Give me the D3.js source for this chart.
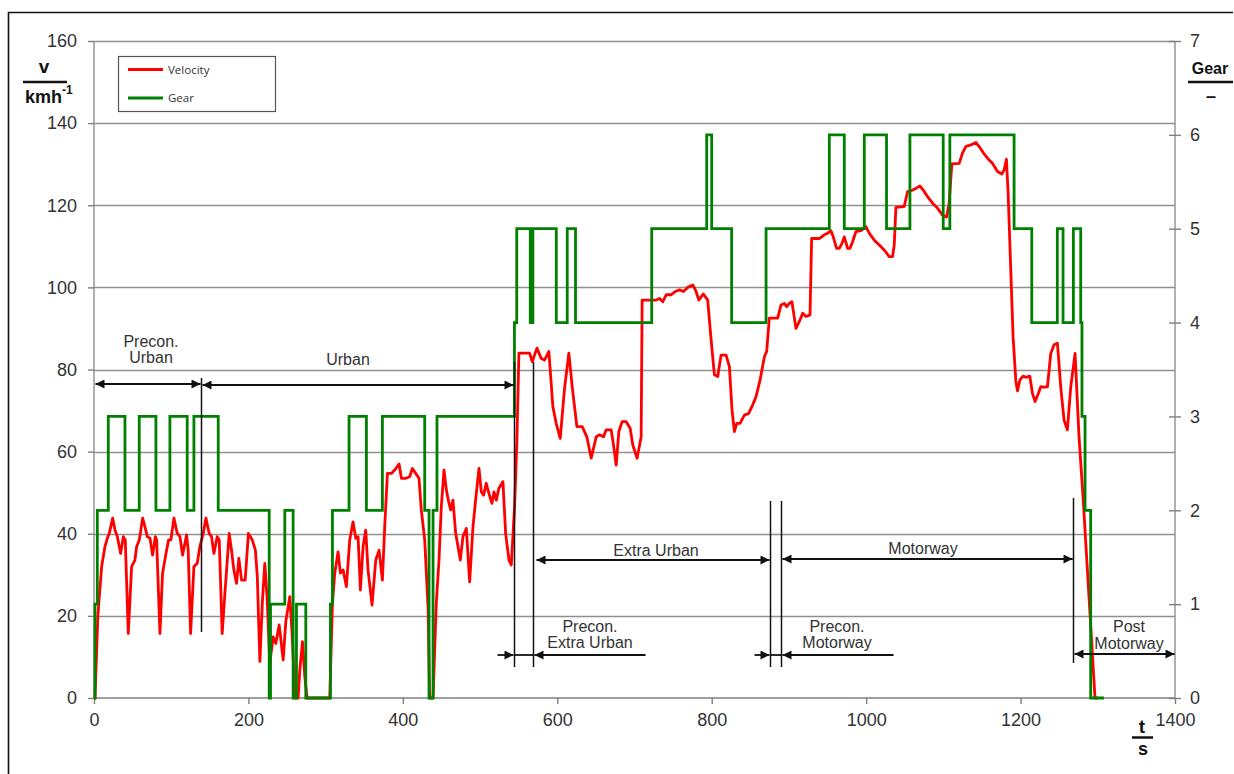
<!DOCTYPE html>
<html>
<head>
<meta charset="utf-8">
<script src="https://cdn.jsdelivr.net/npm/d3@7/dist/d3.min.js"></script>
<style>
  html, body { margin: 0; padding: 0; background: #fff; }
  svg { display: block; font-family: "Liberation Sans", Arial, sans-serif; }
</style>
</head>
<body>
<svg id="chart" width="1234" height="774"></svg>
<script>
// Drive cycle: time [s], vehicle speed [km/h]
const velocityTime = [
  0, 1.3, 5, 9.9, 14.2, 17.3, 19.8, 24.2, 27.2, 30.2, 34.5, 38.0, 40.5, 44.4, 48.7, 53.0, 55.2, 58.7,
  63.0, 66.0, 69.0, 72.5, 75.9, 79.4, 81.1, 85.4, 88.8, 93.2, 96.6, 99.6, 103.5, 107.8, 111.3, 114.7,
  119.9, 122.0, 125.1, 129.4, 133.7, 137.1, 141.5, 144.9, 149.2, 152.2, 155.3, 159.6, 162.2, 166.0,
  169.5, 175.1, 178.1, 181.1, 184.6, 187.6, 191.1, 195.8, 200.0, 205.0, 209.0, 211.5, 214.8, 218.2,
  221.2, 224.3, 227.7, 232.0, 235.5, 239.8, 245.0, 248.4, 253.6, 257.0, 260.1, 264.4, 266.5, 270.0,
  273.0, 276.0, 305.3, 308.8, 311.8, 316.1, 319.1, 322.6, 326.9, 331.2, 335.5, 339.0, 342.0, 345.0,
  348.5, 351.9, 354.9, 360.1, 364.9, 369.2, 373.5, 376.5, 380.0, 385.1, 389.4, 395.1, 398.1, 403.7,
  408.9, 412.3, 416.6, 420.9, 423.9, 428.3, 432.6, 434.7, 439.1, 443.3, 446.8, 449.8, 453.3, 456.3,
  459.3, 461.9, 464.9, 468.4, 471.4, 474.4, 477.8, 482.2, 486.5, 490.8, 495.1, 498.6, 501.6, 504.6,
  508.0, 511.5, 515.4, 518.0, 521.0, 524.4, 529.6, 533.1, 537.4, 540.4, 544.7, 547.7, 550.3, 564.1,
  567.6, 573.6, 579.2, 583.5, 589.1, 594.3, 598.6, 603.8, 609.4, 615.0, 619.3, 625.4, 632.3, 638.3,
  643.9, 650.4, 654.7, 659.9, 663.3, 669.8, 672.8, 676.3, 679.7, 684.0, 689.2, 694.4, 697.8, 703.4,
  708.6, 709.9, 728.0, 732.3, 736.6, 741.0, 747.4, 753.0, 758.2, 763.4, 769.0, 775.4, 779.8, 783.2,
  789.2, 794.8, 799.2, 803.5, 807.8, 812.1, 818.6, 822.9, 826.3, 829.4, 832.4, 836.7, 842.3, 847.9,
  853.1, 857.4, 862.6, 868.2, 871.2, 874.6, 885.4, 889.7, 894.0, 897.1, 900.5, 903.9, 909.1, 913.5,
  917.8, 922.1, 927.3, 929.4, 939.3, 945.8, 950.1, 954.4, 957.4, 961.7, 965.2, 968.7, 971.7, 976.0,
  979.0, 982.5, 986.8, 993.2, 999.7, 1004.0, 1010.5, 1017.0, 1023.4, 1029.9, 1034.2, 1036.4, 1038.5,
  1049.3, 1053.6, 1060.1, 1064.4, 1069.6, 1073.9, 1079.5, 1086.0, 1092.4, 1098.9, 1104.1, 1107.5,
  1111.0, 1120.5, 1124.8, 1129.1, 1135.6, 1142.0, 1146.4, 1152.8, 1159.3, 1163.6, 1170.1, 1175.7,
  1178.7, 1181.7, 1183.9, 1187.3, 1190.3, 1193.8, 1196.0, 1199.0, 1203.3, 1206.7, 1211.9, 1215.4,
  1218.8, 1223.1, 1226.1, 1230.5, 1234.8, 1239.1, 1243.4, 1247.7, 1252.0, 1256.3, 1260.6, 1265.0,
  1270.6, 1275.7, 1280.9, 1296.4, 1300
];
const velocityValue = [
  0, 0, 20, 32, 36.9, 38.9, 40.1, 43.8, 40.9, 39.3, 35.2, 39.3, 38.5, 15.7, 32, 33.6, 36.9, 38.5,
  43.8, 41.7, 39.3, 38.9, 34.8, 39.3, 38.5, 15.7, 30.4, 35.2, 38.5, 38.5, 43.8, 40.1, 39.3, 34.8,
  39.7, 36.0, 15.7, 32, 32.8, 36.9, 40.1, 43.8, 40.1, 39.3, 35.2, 39.3, 38.5, 15.7,
  25.5, 40.1, 36.0, 31.2, 27.9, 34.0, 28.7, 28.7, 40.1, 38.5, 36.0, 29.6, 8.9, 23.9,
  32.8, 23.9, 8.5, 14.9, 13.3, 17.8, 9.3, 18.6, 24.7, 14.1, 0, 0, 6.8, 13.7,
  5.2, 0, 0, 23.1, 30.4, 35.6, 30.4, 31.2, 27.1, 38.5, 42.9, 38.9, 39.3, 26.3,
  36.9, 40.9, 31.2, 22.6, 33.6, 36.0, 28.7, 41.7, 54.7, 54.7, 55.5, 57.0, 53.5, 53.5,
  53.9, 55.9, 54.7, 53.5, 45.8, 38.5, 22.2, 0, 0, 23.1, 33.6, 46.6, 55.5, 50.7,
  47.8, 45.8, 48.2, 40.1, 36.9, 33.6, 39.3, 41.3, 28.3, 41.7, 49.8, 55.9, 50.2, 49.4,
  52.3, 49.8, 47.4, 50.2, 48.2, 51.1, 52.7, 40.1, 33.6, 32.4, 46.6, 62.8, 84.0, 84.0,
  81.9, 85.2, 82.7, 82.3, 84.4, 70.9, 66.9, 63.2, 75.4, 84.0, 75.8, 66.1, 66.1, 63.6,
  58.4, 63.6, 64.1, 63.6, 65.3, 65.3, 61.6, 56.7, 64.9, 67.3, 67.3, 65.7, 61.6, 58.4,
  63.6, 96.9, 96.9, 97.3, 96.5, 98.2, 98.2, 99.0, 99.4, 99.0, 100.0, 100.6, 99.0, 96.9,
  98.4, 96.9, 87.2, 78.7, 78.3, 83.5, 83.5, 80.7, 70.1, 64.9, 66.9, 66.9, 68.9, 69.3,
  71.4, 73.4, 77.4, 83.1, 84.4, 92.5, 92.5, 95.7, 96.1, 95.3, 96.1, 96.5, 90.0, 91.7,
  93.7, 92.9, 93.3, 111.9, 111.9, 112.8, 113.2, 113.8, 112.3, 109.5, 109.5, 110.7, 112.3, 109.5,
  109.5, 111.1, 113.6, 113.8, 114.8, 113.2, 111.5, 110.3, 109.1, 107.5, 107.5, 110.3, 119.5,
  119.7, 123.3, 123.7, 124.1, 124.7, 123.7, 122.1, 120.5, 119.3, 117.6, 117.1, 120.5,
  130.1, 130.2, 132.7, 134.3, 134.7, 135.3, 134.3, 132.5, 131.0, 130.2, 128.2, 127.6,
  128.6, 131.2, 122.9, 104.2, 88.0, 77.4, 74.8, 77.4, 78.4, 78.1, 78.4, 74.2,
  72.2, 74.2, 75.8, 75.7, 75.8, 83.9, 86.0, 86.4, 75.8, 67.7, 65.3, 75.8,
  83.9, 63.6, 49.0, 0, 0
];

// Selected gear: time of each shift [s] and the gear engaged from then on
const gearTime = [
  0, 1.3, 4.3, 18.5, 40.1, 58.6, 80.2, 98.3, 120.7, 129.4, 160.9, 226.9, 228.6, 247.1, 257.9, 262.2,
  274.3, 306.2, 308.8, 330.3, 352.8, 373.5, 428.3, 433.9, 439.1, 444.2, 544.5, 547.5, 565.0, 568.4,
  598.7, 612.9, 623.6, 722.3, 793.5, 800.0, 825.8, 870.4, 952.3, 971.7, 997.6, 1026.4, 1056.7,
  1099.8, 1108.4, 1191.6, 1214.5, 1247.6, 1255.0, 1268.4, 1277.9, 1279.5, 1283.5, 1290.8, 1308
];
const gearValue = [
  0, 1, 2, 3, 2, 3, 2, 3, 2, 3, 2, 0, 1, 2, 0, 1,
  0, 1, 2, 3, 2, 3, 2, 0, 2, 3, 4, 5, 4, 5,
  4, 5, 4, 5, 6, 5, 4, 5, 6, 5, 6, 5, 6,
  5, 6, 5, 4, 5, 4, 5, 4, 3, 2, 0, 0
];

// Axis ticks
const velocityTicks = [0, 20, 40, 60, 80, 100, 120, 140, 160];
const gearTicks = [0, 1, 2, 3, 4, 5, 6, 7];
const timeTicks = [0, 200, 400, 600, 800, 1000, 1200, 1400];

// Test phase boundaries [s]
const phaseBounds = [0, 138.6, 544, 568.6, 875.5, 889.4, 1267.6, 1400];

const velocity = velocityTime.map((t, i) => ({ t, v: velocityValue[i] }));
const gear = gearTime.map((t, i) => ({ t, g: gearValue[i] }));

const svg = d3.select("#chart");
const x = d3.scaleLinear().domain([0, 1400]).range([94, 1175]);
const yV = d3.scaleLinear().domain([0, 160]).range([698, 41]);
const yG = d3.scaleLinear().domain([0, 7]).range([698, 41]);

const gridColor = "#8f8f8f";
const textColor = "#333";

// Outer frame
svg.append("path")
  .attr("d", "M8.5,774 L8.5,12.5 L1233,12.5")
  .attr("fill", "none").attr("stroke", "#111").attr("stroke-width", 1.6);

// Horizontal grid
svg.append("g").selectAll("line").data(velocityTicks.slice(1)).join("line")
  .attr("x1", x(0)).attr("x2", x(1400))
  .attr("y1", d => Math.round(yV(d)) + 0.5).attr("y2", d => Math.round(yV(d)) + 0.5)
  .attr("stroke", gridColor).attr("stroke-width", 1.4);

// Plot frame: left, right and bottom axis lines
svg.append("line").attr("x1", x(0)).attr("x2", x(0)).attr("y1", yV(160)).attr("y2", yV(0))
  .attr("stroke", gridColor).attr("stroke-width", 1.4);
svg.append("line").attr("x1", x(1400)).attr("x2", x(1400)).attr("y1", yV(160)).attr("y2", yV(0))
  .attr("stroke", gridColor).attr("stroke-width", 1.4);
svg.append("line").attr("x1", x(0)).attr("x2", x(1400)).attr("y1", yV(0)).attr("y2", yV(0))
  .attr("stroke", "#7f7f7f").attr("stroke-width", 1.6);

function styleAxis(g) {
  g.select(".domain").remove();
  g.selectAll(".tick line").attr("stroke", "#7f7f7f").attr("stroke-width", 1.4);
  g.selectAll(".tick text").attr("fill", textColor)
    .style("font-size", "18px").style("font-family", "\"Liberation Sans\", Arial, sans-serif");
}

// Left axis (velocity)
svg.append("g").attr("transform", `translate(${x(0)},0)`)
  .call(d3.axisLeft(yV).tickValues(velocityTicks).tickSize(6).tickPadding(11).tickFormat(d3.format("d")))
  .call(styleAxis);

// Right axis (gear) with ticks crossing the axis line
const rightAxis = svg.append("g").attr("transform", `translate(${x(1400)},0)`)
  .call(d3.axisRight(yG).tickValues(gearTicks).tickSize(6).tickPadding(9).tickFormat(d3.format("d")))
  .call(styleAxis);
rightAxis.selectAll(".tick line").attr("x1", -6).attr("x2", 6);

// Bottom axis (time)
svg.append("g").attr("transform", `translate(0,${yV(0)})`)
  .call(d3.axisBottom(x).tickValues(timeTicks).tickSize(6).tickPadding(9).tickFormat(d3.format("d")))
  .call(styleAxis);

// Series
const velLine = d3.line().x(d => x(d.t)).y(d => yV(d.v)).curve(d3.curveLinear);
const gearLine = d3.line().x(d => x(d.t)).y(d => yG(d.g)).curve(d3.curveStepAfter);

svg.append("path").datum(velocity).attr("d", velLine)
  .attr("fill", "none").attr("stroke", "#ff0000").attr("stroke-width", 2.8)
  .attr("stroke-linejoin", "round");
svg.append("path").datum(gear).attr("d", gearLine)
  .attr("fill", "none").attr("stroke", "#008000").attr("stroke-width", 2.8)
  .attr("stroke-linejoin", "miter");

// Arrow markers for phase spans
const defs = svg.append("defs");
defs.append("marker").attr("id", "arrowEnd")
  .attr("viewBox", "0 0 10 10").attr("refX", 10).attr("refY", 5)
  .attr("markerWidth", 10).attr("markerHeight", 9).attr("markerUnits", "userSpaceOnUse")
  .attr("orient", "auto")
  .append("path").attr("d", "M0,0 L10,5 L0,10 z").attr("fill", "#111");
defs.append("marker").attr("id", "arrowStart")
  .attr("viewBox", "0 0 10 10").attr("refX", 0).attr("refY", 5)
  .attr("markerWidth", 10).attr("markerHeight", 9).attr("markerUnits", "userSpaceOnUse")
  .attr("orient", "auto")
  .append("path").attr("d", "M10,0 L0,5 L10,10 z").attr("fill", "#111");

const ann = svg.append("g");
function span(x1, x2, y, start, end) {
  const l = ann.append("line").attr("x1", x1).attr("x2", x2).attr("y1", y).attr("y2", y)
    .attr("stroke", "#111").attr("stroke-width", 1.8);
  if (start) l.attr("marker-start", "url(#arrowStart)");
  if (end) l.attr("marker-end", "url(#arrowEnd)");
}
function vline(xp, y1, y2) {
  ann.append("line").attr("x1", xp).attr("x2", xp).attr("y1", y1).attr("y2", y2)
    .attr("stroke", "#111").attr("stroke-width", 1.5);
}
function label(lines, xp, yBase) {
  lines.forEach((s, i) => {
    ann.append("text").attr("x", xp).attr("y", yBase + i * 16.5)
      .attr("text-anchor", "middle").attr("fill", textColor)
      .style("font-size", "16px").text(s);
  });
}

const [p0, p1, p2, p3, p4, p5, p6, p7] = phaseBounds.map(t => Math.round(x(t)) + 0.5);

// Phase boundaries
vline(p1, 378, 632);
vline(p2, 362, 667);
vline(p3, 362, 667);
vline(p4, 501, 667);
vline(p5, 501, 667);
vline(p6, 498, 663);

// Phase spans
span(p0 + 1, p1 - 1, 384, true, true);
span(p1 + 1, p2 - 1, 385, true, true);
span(p3 + 3, p4 - 1, 560, true, true);
span(p5 + 1, p6 - 1, 559, true, false);
span(p6 + 1, p6 + 1, 559, false, true);
span(p6 + 1, p7 - 1, 654, true, true);
// Preconditioning spans (arrows pointing inward)
span(p2 - 17, p2 - 1, 655, false, true);
span(p2, p3, 655, false, false);
span(p3 + 112, p3 + 1, 655, false, true);
span(p4 - 16, p4 - 1, 655, false, true);
span(p4, p5, 655, false, false);
span(p5 + 112, p5 + 1, 655, false, true);
// Motorway span ends on the boundary line
ann.selectAll("line").filter(function() {
  return +this.getAttribute("x1") === p6 + 1 && +this.getAttribute("x2") === p6 + 1;
}).remove();
span(p6 - 20, p6 - 1, 559, false, true);

// Phase labels
label(["Precon.", "Urban"], 151, 346.5);
label(["Urban"], 348, 365);
label(["Extra Urban"], 656, 556);
label(["Motorway"], 923, 554);
label(["Precon.", "Extra Urban"], 590, 631.5);
label(["Precon.", "Motorway"], 837, 631.5);
label(["Post", "Motorway"], 1129, 632);

// Axis titles (quantity over unit)
const titles = svg.append("g").attr("fill", "#111").style("font-weight", "bold");
titles.append("text").attr("x", 44).attr("y", 73).attr("text-anchor", "middle")
  .style("font-size", "19px").text("v");
titles.append("line").attr("x1", 23).attr("x2", 67).attr("y1", 82).attr("y2", 82)
  .attr("stroke", "#111").attr("stroke-width", 2.5);
const kmh = titles.append("text").attr("x", 25).attr("y", 103).style("font-size", "18px");
kmh.append("tspan").text("kmh");
kmh.append("tspan").attr("dy", -9).style("font-size", "12px").text("-1");

titles.append("text").attr("x", 1210).attr("y", 74).attr("text-anchor", "middle")
  .style("font-size", "16px").text("Gear");
titles.append("line").attr("x1", 1188).attr("x2", 1233).attr("y1", 82).attr("y2", 82)
  .attr("stroke", "#111").attr("stroke-width", 2.5);
titles.append("text").attr("x", 1211).attr("y", 102).attr("text-anchor", "middle")
  .style("font-size", "18px").text("–");

titles.append("text").attr("x", 1142).attr("y", 733).attr("text-anchor", "middle")
  .style("font-size", "19px").text("t");
titles.append("line").attr("x1", 1132).attr("x2", 1153).attr("y1", 737.5).attr("y2", 737.5)
  .attr("stroke", "#111").attr("stroke-width", 2.5);
titles.append("text").attr("x", 1143).attr("y", 755).attr("text-anchor", "middle")
  .style("font-size", "18px").text("s");

// Legend
const legendItems = [
  { name: "Velocity", color: "#ff0000" },
  { name: "Gear", color: "#008000" }
];
const legend = svg.append("g");
legend.append("rect").attr("x", 118.5).attr("y", 56.5).attr("width", 157).attr("height", 55)
  .attr("fill", "#fff").attr("stroke", "#555").attr("stroke-width", 1.2);
legendItems.forEach((d, i) => {
  const yy = 69.5 + i * 28.5;
  legend.append("line").attr("x1", 128).attr("x2", 163).attr("y1", yy).attr("y2", yy)
    .attr("stroke", d.color).attr("stroke-width", 3);
  legend.append("text").attr("x", 168).attr("y", yy + 4).attr("fill", textColor)
    .style("font-size", "11.5px").style("font-family", "\"Open Sans\", \"Liberation Sans\", sans-serif")
    .text(d.name);
});
</script>
</body>
</html>
